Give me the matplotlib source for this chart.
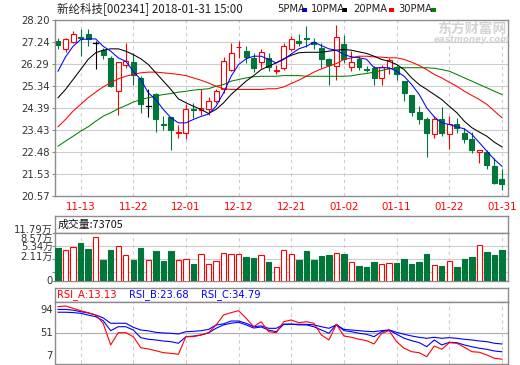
import matplotlib
matplotlib.use('Agg')
import matplotlib.pyplot as plt
from matplotlib.patches import Rectangle
import numpy as np

plt.rcParams['font.family'] = ['DejaVu Sans', 'Noto Sans CJK SC']

# ---------------- data ----------------
date_labels = ['11-13', '11-22', '12-01', '12-12', '12-21', '01-02', '01-11', '01-22', '01-31']
date_idx = [3, 10, 17, 24, 31, 38, 45, 52, 59]

open_ = [27.28, 26.96, 27.24, 27.45, 27.61, 27.21, 26.92, 26.56, 25.11, 26.27,
         26.37, 25.69, 24.46, 25.01, 23.70, 24.00, 23.29, 23.31, 24.36, 24.29,
         24.32, 24.68, 25.19, 26.05, 27.02, 26.85, 26.56, 26.37, 26.56, 25.99,
         26.13, 26.96, 27.31, 27.40, 27.24, 26.99, 26.49, 26.20, 27.18, 26.17,
         26.52, 26.07, 26.10, 25.69, 26.10, 26.17, 25.55, 24.93, 24.20, 23.92,
         23.27, 23.92, 23.24, 23.70, 23.31, 23.02, 22.49, 22.47, 21.89, 21.31]
high = [27.43, 27.40, 27.73, 27.82, 27.79, 27.28, 26.99, 26.66, 26.40, 27.21,
        26.78, 25.76, 25.22, 25.04, 24.03, 24.00, 23.63, 24.54, 24.61, 25.19,
        24.87, 25.20, 26.60, 27.21, 27.28, 27.09, 26.78, 26.96, 26.78, 26.27,
        27.21, 27.50, 27.61, 27.96, 27.40, 27.21, 26.56, 28.00, 27.57, 26.85,
        26.63, 26.20, 26.20, 26.27, 26.56, 26.27, 25.55, 24.93, 24.49, 23.98,
        24.03, 24.44, 24.03, 23.96, 23.53, 23.33, 22.58, 22.58, 22.22, 21.75]
low = [26.95, 26.80, 27.20, 26.63, 27.06, 26.08, 26.49, 25.30, 24.10, 26.13,
       25.40, 24.18, 24.00, 23.33, 23.45, 22.58, 23.09, 23.06, 23.96, 24.10,
       24.10, 24.60, 25.04, 25.98, 26.56, 26.34, 25.94, 26.13, 25.98, 25.84,
       26.02, 26.85, 27.06, 27.04, 26.95, 26.13, 25.40, 25.62, 26.34, 26.01,
       26.05, 25.95, 25.40, 25.40, 25.84, 25.62, 24.68, 24.03, 23.67, 22.27,
       23.09, 23.16, 22.62, 23.28, 22.88, 22.44, 21.98, 21.72, 21.11, 20.85]
close = [27.11, 27.39, 27.60, 27.42, 27.38, 27.21, 26.67, 25.33, 26.37, 26.41,
         25.81, 24.54, 24.46, 23.92, 23.65, 23.45, 23.33, 24.35, 24.28, 24.39,
         24.68, 25.11, 26.41, 26.78, 27.05, 26.59, 26.10, 26.82, 26.17, 26.03,
         27.09, 27.38, 27.21, 27.36, 27.18, 26.49, 26.24, 27.47, 26.49, 26.37,
         26.17, 26.03, 25.69, 26.17, 26.46, 25.84, 25.04, 24.20, 23.92, 23.28,
         23.92, 23.28, 23.67, 23.53, 23.02, 22.55, 22.56, 21.93, 21.14, 21.11]

ma5 = [25.98, 26.60, 27.06, 27.35, 27.38, 27.38, 27.06, 26.85, 26.56, 26.41,
       25.98, 25.62, 25.04, 24.75, 24.32, 23.96, 23.74, 23.74, 23.89, 24.02,
       24.12, 24.46, 25.04, 25.76, 26.27, 26.52, 26.63, 26.63, 26.49, 26.34,
       26.49, 26.73, 26.95, 27.06, 27.24, 27.09, 26.95, 26.89, 26.70, 26.60,
       26.56, 26.50, 26.13, 26.13, 26.13, 25.98, 25.76, 25.40, 24.97, 24.39,
       24.00, 23.74, 23.67, 23.57, 23.48, 23.24, 22.88, 22.51, 22.15, 21.86]
ma10 = [24.83, 25.19, 25.62, 26.05, 26.49, 26.78, 26.89, 26.95, 26.95, 26.85,
        26.70, 26.52, 26.27, 25.91, 25.55, 25.19, 24.78, 24.61, 24.46, 24.32,
        24.15, 24.32, 24.61, 24.97, 25.26, 25.55, 25.79, 26.05, 26.20, 26.34,
        26.52, 26.67, 26.78, 26.80, 26.80, 26.80, 26.85, 26.89, 26.92, 26.89,
        26.82, 26.75, 26.63, 26.49, 26.41, 26.27, 26.05, 25.69, 25.40, 25.19,
        24.97, 24.75, 24.46, 24.18, 23.81, 23.53, 23.34, 23.16, 22.90, 22.70]
ma20 = [23.57, 23.89, 24.25, 24.54, 24.83, 25.07, 25.30, 25.48, 25.65, 25.76,
        25.84, 25.91, 25.94, 25.94, 25.91, 25.88, 25.84, 25.79, 25.69, 25.59,
        25.47, 25.33, 25.22, 25.19, 25.19, 25.19, 25.19, 25.19, 25.22, 25.22,
        25.30, 25.45, 25.59, 25.76, 25.94, 26.08, 26.20, 26.31, 26.49, 26.56,
        26.63, 26.63, 26.60, 26.59, 26.56, 26.56, 26.49, 26.37, 26.23, 26.05,
        25.84, 25.69, 25.50, 25.33, 25.11, 24.93, 24.75, 24.54, 24.25, 23.96]
ma30 = [22.73, 22.95, 23.16, 23.38, 23.57, 23.81, 24.03, 24.18, 24.35, 24.49,
        24.64, 24.75, 24.83, 24.90, 24.97, 25.01, 25.07, 25.11, 25.16, 25.19,
        25.22, 25.33, 25.40, 25.55, 25.62, 25.69, 25.74, 25.76, 25.76, 25.76,
        25.79, 25.79, 25.79, 25.76, 25.76, 25.76, 25.76, 25.76, 25.76, 25.78,
        25.84, 25.88, 25.94, 26.01, 26.08, 26.13, 26.13, 26.13, 26.13, 26.13,
        26.11, 26.05, 25.98, 25.84, 25.69, 25.55, 25.40, 25.26, 25.11, 24.97]

volume = [8.02, 7.44, 8.11, 9.26, 7.78, 10.59, 4.96, 7.44, 8.44, 6.20,
          4.96, 7.94, 4.96, 7.20, 4.71, 7.20, 4.96, 5.21, 4.05, 6.62,
          4.14, 4.71, 6.87, 6.45, 6.45, 5.71, 5.46, 6.20, 4.47, 3.39,
          7.61, 6.62, 4.96, 7.20, 4.96, 5.96, 6.20, 6.87, 6.45, 4.63,
          3.47, 3.23, 4.47, 4.14, 4.38, 4.22, 5.21, 3.97, 4.47, 6.45,
          3.89, 3.47, 4.88, 3.23, 5.21, 5.71, 8.60, 6.95, 6.29, 7.37]

rsi_a = [87.9, 88.9, 85.6, 82.2, 79.4, 76.1, 64.3, 33.4, 50.9, 50.9,
         45.2, 29.5, 27.7, 25.2, 22.4, 21.5, 20.1, 45.2, 45.2, 47.6,
         50.9, 61.8, 76.1, 79.4, 82.2, 71.4, 59.4, 66.5, 52.3, 50.9,
         66.5, 69.0, 65.1, 66.5, 64.3, 47.6, 40.5, 62.8, 46.2, 44.3,
         41.5, 39.5, 34.8, 50.0, 53.7, 38.1, 28.7, 23.8, 22.4, 16.7,
         31.9, 27.2, 36.6, 35.8, 30.1, 23.8, 23.0, 19.1, 14.4, 13.13]
rsi_b = [80.0, 80.0, 79.5, 78.5, 76.0, 73.7, 68.0, 53.7, 59.4, 59.4,
         54.7, 43.8, 41.5, 40.5, 39.0, 38.1, 35.8, 45.2, 46.0, 47.6,
         50.5, 57.1, 62.0, 64.3, 65.7, 62.0, 57.5, 59.0, 54.5, 52.3,
         62.8, 63.0, 62.0, 62.0, 59.4, 54.7, 50.0, 62.8, 53.8, 52.3,
         50.0, 48.6, 45.2, 52.3, 54.7, 48.6, 42.9, 39.5, 36.7, 30.9,
         40.5, 33.4, 37.2, 36.7, 33.4, 30.9, 28.7, 27.2, 24.8, 23.68]
rsi_c = [84.0, 84.0, 83.0, 80.8, 79.0, 76.1, 72.0, 64.3, 64.3, 64.3,
         58.6, 54.7, 53.5, 51.4, 50.5, 50.0, 49.0, 52.3, 52.8, 53.7,
         55.5, 61.8, 63.5, 67.5, 67.5, 64.3, 59.4, 60.5, 57.1, 57.1,
         62.8, 63.0, 62.8, 62.8, 62.0, 59.4, 57.1, 62.0, 55.5, 54.7,
         53.8, 52.8, 52.3, 53.8, 54.7, 51.4, 48.6, 46.2, 44.3, 42.9,
         44.3, 42.9, 43.8, 42.9, 41.5, 40.5, 39.1, 38.1, 35.8, 34.79]

price_ticks = ['20.57', '21.53', '22.48', '23.43', '24.39', '25.34', '26.29', '27.24', '28.20']
vol_ticks = [2.11, 5.34, 8.57, 11.79]
vol_tick_labels = ['0', '2.11万', '5.34万', '8.57万', '11.79万']
rsi_ticks = ['7', '51', '94']
rsi_range = (7, 95)
vol_last = 73705
title = '新纶科技[002341] 2018-01-31 15:00'

# ---------------- layout helpers ----------------
W, H = 520, 365
fig = plt.figure(figsize=(W / 100, H / 100), dpi=100)
fig.patch.set_facecolor('white')


def px_axes(x0, y0, x1, y1):
    return fig.add_axes([x0 / W, 1 - y1 / H, (x1 - x0) / W, (y1 - y0) / H])


def ftext(x, y, s, **kw):
    return fig.text(x / W, 1 - y / H, s, **kw)


RED = '#FF0000'
GREEN = '#00763A'
BLUE = '#0000FF'
GRID = '#CDCDCD'
BORDER = '#8C8C8C'
LBL = '#333333'
N = len(close)
x = np.arange(N)
XL = (-0.4, 59.8)


def style(ax):
    for s in ax.spines.values():
        s.set_color(BORDER)
        s.set_linewidth(1.0)
    ax.set_xlim(*XL)
    ax.set_xticks([])
    ax.set_yticks([])


def vgrid(ax, y0, y1):
    for d in date_idx:
        ax.plot([d, d], [y0, y1], color=GRID, lw=0.8, ls=(0, (3, 3)), zorder=0)


# ---------------- price panel ----------------
ax = px_axes(55, 20, 508, 196)
style(ax)
pt = [float(t) for t in price_ticks]
ax.set_ylim(pt[0], pt[-1])
for v in pt[1:-1]:
    ax.axhline(v, color=GRID, lw=0.8, zorder=0)
vgrid(ax, pt[0], pt[-1])
ax.set_yticks(pt)
ax.set_yticklabels(price_ticks)
ax.tick_params(axis='y', length=2.5, width=0.8, color=BORDER, pad=1.5,
               labelsize=7.2, labelcolor=LBL)
ax.set_xticks(date_idx)
ax.set_xticklabels(date_labels)
ax.tick_params(axis='x', length=0, pad=4.5, labelsize=7.4, labelcolor=RED)

bw = 0.66
for i in range(N):
    o, h, l, c = open_[i], high[i], low[i], close[i]
    if c > o:
        col, fc = RED, 'white'
    elif c < o:
        col, fc = GREEN, GREEN
    else:
        col, fc = 'black', 'black'
    ax.plot([i, i], [l, h], color=col, lw=0.8, zorder=2, solid_capstyle='butt')
    if c == o:
        ax.plot([i - bw / 2, i + bw / 2], [o, o], color=col, lw=0.9, zorder=3)
    else:
        hgt = max(abs(c - o), 0.025)
        ax.add_patch(Rectangle((i - bw / 2, min(o, c)), bw, hgt, facecolor=fc,
                               edgecolor=col, lw=0.8, zorder=3))

ax.plot(x, ma30, color='#008000', lw=0.75, zorder=4)
ax.plot(x, ma20, color=RED, lw=0.75, zorder=4)
ax.plot(x, ma10, color='black', lw=0.75, zorder=4)
ax.plot(x, ma5, color=BLUE, lw=0.75, zorder=4)

# header
cjk = ['Noto Sans CJK SC', 'DejaVu Sans']
ftext(57, 9.5, title, fontsize=8.3, family=cjk, va='center', ha='left', color='#222222')
legend_items = [('5PMA', BLUE, 277), ('10PMA', 'black', 311), ('20PMA', RED, 353), ('30PMA', '#008000', 398)]
for name, col, xx in legend_items:
    ftext(xx, 9.5, name, fontsize=7.2, va='center', ha='left', color='#222222')
for name, col, xx in [('5PMA', BLUE, 302), ('10PMA', 'black', 342), ('20PMA', RED, 389), ('30PMA', '#008000', 431)]:
    fig.patches.append(Rectangle((xx / W, 1 - 11.5 / H), 5 / W, 4 / H, transform=fig.transFigure,
                                 facecolor=col, edgecolor='none'))

# watermark
ftext(472, 29, '东方财富网', fontsize=10, family=cjk, fontweight='bold', color='#D4D4D4',
      ha='center', va='center')
ftext(472, 40, 'eastmoney.com', fontsize=6.2, fontweight='bold', fontstyle='italic',
      color='#D4D4D4', ha='center', va='center')

# ---------------- volume panel ----------------
axvt = px_axes(55, 216, 508, 232.5)
style(axvt)
axvt.text(0.005, 0.5, '成交量:' + str(vol_last), transform=axvt.transAxes, fontsize=7.8,
          family=cjk, va='center', ha='left', color='#111111')

axv = px_axes(55, 232.5, 508, 280.5)
style(axv)
axv.set_ylim(0, vol_ticks[-1])
for v in vol_ticks[:-1]:
    axv.axhline(v, color=GRID, lw=0.8, zorder=0)
vgrid(axv, 0, vol_ticks[-1])
axv.set_yticks([0] + vol_ticks)
axv.set_yticklabels([])
axv.tick_params(axis='y', length=2.5, width=0.8, color=BORDER)
for i in range(N):
    if close[i] >= open_[i]:
        axv.bar(i, volume[i], width=0.72, facecolor='white', edgecolor=RED, lw=0.8, zorder=3)
    else:
        axv.bar(i, volume[i], width=0.72, facecolor=GREEN, edgecolor=GREEN, lw=0.8, zorder=3)
vol_label_y = [280.5, 256.7, 247.3, 238.5, 230]
for lab, yy in zip(vol_tick_labels, vol_label_y):
    ftext(53, yy, lab, fontsize=7.2, family=['DejaVu Sans', 'Noto Sans CJK SC'],
          ha='right', va='center', color=LBL)

# ---------------- RSI panel ----------------
axrt = px_axes(55, 288, 508, 301.7)
style(axrt)
rsi_titles = [('RSI_A:%.2f' % rsi_a[-1], RED, 57), ('RSI_B:%.2f' % rsi_b[-1], BLUE, 129),
              ('RSI_C:%.2f' % rsi_c[-1], BLUE, 201)]
for s, col, xx in rsi_titles:
    ftext(xx, 294.5, s, fontsize=7.2, color=col, ha='left', va='center')

axr = px_axes(55, 301.7, 508, 363.5)
style(axr)
axr.set_ylim(*rsi_range)
axr.axhline(51, color='#B0B0B0', lw=0.9, zorder=0)
vgrid(axr, *rsi_range)
axr.plot(x, rsi_c, color=BLUE, lw=0.8, zorder=3)
axr.plot(x, rsi_b, color=BLUE, lw=0.8, zorder=3)
axr.plot(x, rsi_a, color=RED, lw=0.8, zorder=4)
for lab, yy in zip(rsi_ticks, [356, 333.3, 310]):
    ftext(53, yy, lab, fontsize=7.2, ha='right', va='center', color=LBL)

fig.savefig('out.png', dpi=100)
